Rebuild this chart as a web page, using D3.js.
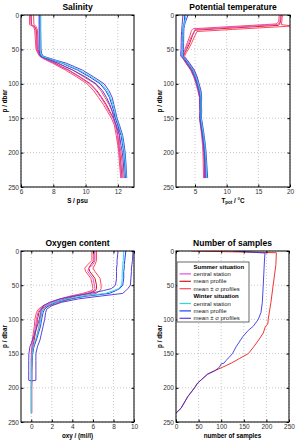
<!DOCTYPE html>
<html lang="en">
<head>
<meta charset="UTF-8">
<title>Summer and winter profiles</title>
<style>
  body { margin: 0; background: #fff; }
  svg { display: block; font-family: "Liberation Sans", Arial, sans-serif; }
  .tick text { fill: #333; font-size: 6.5px; }
  .tick line { stroke: #000; }
  .grid line { stroke: #bbb; stroke-dasharray: 1,2; stroke-width: 0.8; }
  .title { font-size: 8.5px; font-weight: bold; }
  .label { font-size: 6.3px; font-weight: bold; }
  .legend text { font-size: 6px; }
</style>
</head>
<body>
<svg id="chart" width="296" height="440"></svg>
<script src="https://d3js.org/d3.v7.min.js"></script>
<script>
// ---- salinity (S / psu) ----
const salDepth = [0, 14, 17, 22, 50, 56, 60, 63, 66, 70, 75, 80, 90, 100, 110, 120, 130, 140, 150, 160, 175, 190, 200, 215, 237];
const salSumLo = [6.53, 6.53, 6.78, 6.85, 6.93, 7.05, 7.15, 7.35, 7.6, 7.95, 8.35, 8.75, 9.45, 10.1, 10.5, 10.8, 11.1, 11.35, 11.6, 11.78, 11.9, 12.0, 12.05, 12.1, 12.18];
const salSumMean = [6.63, 6.65, 6.85, 6.95, 7.0, 7.1, 7.2, 7.42, 7.7, 8.1, 8.5, 8.95, 9.65, 10.3, 10.7, 11.0, 11.28, 11.5, 11.72, 11.88, 12.0, 12.06, 12.12, 12.18, 12.25];
const salSumHi = [6.78, 6.8, 6.95, 7.02, 7.06, 7.15, 7.25, 7.55, 7.85, 8.25, 8.7, 9.2, 9.9, 10.6, 10.95, 11.2, 11.45, 11.65, 11.85, 12.0, 12.1, 12.12, 12.2, 12.26, 12.32];
const salSumCentral = [6.6, 6.62, 6.82, 6.92, 6.98, 7.08, 7.2, 7.4, 7.65, 8.05, 8.45, 8.9, 9.6, 10.25, 10.65, 10.95, 11.22, 11.45, 11.7, 11.85, 11.98, 12.05, 12.1, 12.15, 12.22];
const salWinLo = [7.12, 7.12, 7.12, 7.12, 7.12, 7.15, 7.2, 7.5, 7.85, 8.3, 8.75, 9.2, 10.0, 10.65, 11.05, 11.3, 11.5, 11.65, 11.75, 11.9, 12.1, 12.2, 12.28, 12.34, 12.4];
const salWinMean = [7.17, 7.17, 7.17, 7.17, 7.18, 7.2, 7.28, 7.65, 8.05, 8.55, 9.0, 9.5, 10.25, 10.9, 11.25, 11.48, 11.62, 11.75, 11.85, 12.0, 12.2, 12.3, 12.37, 12.42, 12.48];
const salWinHi = [7.22, 7.22, 7.22, 7.22, 7.24, 7.28, 7.38, 7.8, 8.2, 8.8, 9.3, 9.8, 10.5, 11.15, 11.45, 11.65, 11.75, 11.85, 11.95, 12.1, 12.3, 12.4, 12.45, 12.5, 12.55];
const salWinCentral = [7.2, 7.2, 7.2, 7.2, 7.2, 7.22, 7.3, 7.7, 8.1, 8.6, 9.1, 9.6, 10.35, 11.0, 11.35, 11.55, 11.7, 11.8, 11.9, 12.05, 12.25, 12.35, 12.4, 12.46, 12.52];

// ---- potential temperature (°C) ----
const tmpDepth = [0, 10, 13, 14, 15, 16, 20, 21, 22, 24, 30, 40, 50, 55, 60, 65, 70, 80, 90, 100, 110, 120, 130, 140, 150, 160, 175, 190, 200, 215, 237];
const tmpSumLo = [18.3, 18.2, 17.8, 15.93, 14.06, 12.19, 4.7, 4.6, 4.5, 4.4, 4.2, 3.8, 3.4, 3.1, 2.95, 3.2, 3.55, 4.3, 4.8, 5.15, 5.45, 5.7, 5.7, 5.75, 5.7, 5.85, 6.05, 6.2, 6.25, 6.3, 6.35];
const tmpSumMean = [18.6, 18.5, 18.35, 18.3, 18.2, 16.3, 8.8, 6.9, 5.0, 4.9, 4.6, 4.2, 3.7, 3.4, 3.15, 3.45, 3.8, 4.55, 5.0, 5.35, 5.65, 5.85, 5.85, 5.88, 5.85, 5.98, 6.18, 6.35, 6.42, 6.5, 6.5];
const tmpSumHi = [18.8, 18.7, 18.65, 18.6, 19.5, 20.4, 12.85, 10.96, 9.08, 5.3, 5.0, 4.5, 3.95, 3.6, 3.35, 3.7, 4.05, 4.8, 5.25, 5.55, 5.85, 6.0, 6.0, 6.0, 6.0, 6.1, 6.3, 6.5, 6.55, 6.6, 6.62];
const tmpSumCentral = [18.5, 18.4, 18.2, 18.0, 16.14, 14.29, 6.86, 5.0, 4.95, 4.85, 4.5, 4.0, 3.55, 3.3, 3.05, 3.35, 3.7, 4.45, 4.95, 5.3, 5.6, 5.8, 5.8, 5.85, 5.8, 5.95, 6.15, 6.3, 6.38, 6.45, 6.45];
const tmpWinLo = [3.1, 3.0, 2.98, 2.97, 2.96, 2.95, 2.9, 2.9, 2.9, 2.88, 2.85, 2.82, 2.8, 2.75, 2.75, 3.3, 3.65, 4.4, 4.9, 5.25, 5.55, 5.75, 5.75, 5.8, 5.75, 5.9, 6.15, 6.35, 6.45, 6.55, 6.6];
const tmpWinMean = [3.4, 3.3, 3.25, 3.22, 3.2, 3.18, 3.1, 3.08, 3.07, 3.06, 3.05, 3.02, 3.0, 2.95, 2.95, 3.5, 3.9, 4.65, 5.1, 5.45, 5.75, 5.92, 5.9, 5.92, 5.9, 6.05, 6.3, 6.5, 6.6, 6.7, 6.8];
const tmpWinHi = [3.9, 3.5, 3.4, 3.38, 3.35, 3.33, 3.25, 3.25, 3.24, 3.23, 3.22, 3.2, 3.2, 3.15, 3.15, 3.75, 4.15, 4.9, 5.35, 5.65, 5.95, 6.05, 6.02, 6.05, 6.02, 6.2, 6.45, 6.65, 6.75, 6.85, 7.0];
const tmpWinCentral = [3.6, 3.4, 3.3, 3.28, 3.26, 3.24, 3.15, 3.13, 3.12, 3.1, 3.08, 3.05, 3.05, 3.0, 3.0, 3.6, 3.95, 4.7, 5.15, 5.5, 5.8, 5.95, 5.95, 5.95, 5.95, 6.1, 6.35, 6.55, 6.65, 6.75, 6.85];

// ---- oxygen (ml/l) ----
const oxyDepth = [0, 14, 20, 25, 30, 40, 50, 55, 58, 62, 66, 70, 75, 80, 85, 90, 100, 110, 120, 130, 140, 150, 160, 175, 189, 190, 200, 215, 237];
const oxySumLo = [5.9, 5.9, 5.5, 5.2, 5.3, 5.8, 5.95, 6.0, 5.9, 5.0, 3.75, 2.8, 1.8, 1.15, 0.7, 0.5, 0.35, 0.3, 0.2, 0.1, 0.05, 0.0, 0.0, 0.0, 0.0, 0.0, 0.0, 0.0, 0.0];
const oxySumMean = [6.1, 6.1, 5.8, 5.6, 5.7, 6.2, 6.35, 6.35, 6.25, 5.6, 4.3, 3.3, 2.3, 1.5, 0.95, 0.75, 0.6, 0.52, 0.4, 0.28, 0.15, 0.06, 0.03, 0.02, 0.02, 0.02, 0.02, 0.02, 0.02];
const oxySumHi = [6.35, 6.35, 6.2, 6.0, 6.2, 6.7, 6.8, 6.8, 6.7, 6.3, 5.0, 3.9, 2.8, 1.8, 1.15, 1.0, 0.85, 0.75, 0.6, 0.45, 0.25, 0.12, 0.08, 0.06, 0.05, 0.05, 0.05, 0.05, 0.05];
const oxySumCentral = [6.2, 6.2, 6.0, 5.6, 5.5, 6.0, 6.15, 6.2, 6.1, 5.4, 4.0, 3.0, 2.0, 1.3, 0.85, 0.65, 0.5, 0.42, 0.3, 0.2, 0.1, 0.03, 0.0, 0.0, 0.0, 0.0, 0.0, 0.0, 0.0];
const oxyWinLo = [8.45, 8.35, 8.35, 8.3, 8.3, 8.3, 8.2, 7.8, 7.0, 5.7, 4.1, 2.8, 1.8, 1.15, 1.0, 0.9, 0.78, 0.58, 0.35, 0.13, -0.13, -0.23, -0.25, -0.25, -0.25, 0.0, null, null, null];
const oxyWinMean = [9.2, 9.1, 9.05, 9.05, 9.0, 9.0, 8.9, 8.6, 8.2, 7.6, 5.4, 3.75, 2.45, 1.65, 1.3, 1.15, 1.0, 0.9, 0.7, 0.5, 0.25, 0.13, 0.08, 0.05, 0.05, 0.05, 0.03, 0.03, 0.03];
const oxyWinHi = [9.9, 9.85, 9.8, 9.75, 9.75, 9.7, 9.65, 9.4, 9.2, 8.9, 6.7, 4.6, 2.95, 2.0, 1.5, 1.4, 1.3, 1.15, 1.0, 0.85, 0.6, 0.45, 0.45, 0.45, 0.45, 0.0, null, null, null];
const oxyWinCentral = [9.0, 8.95, 8.9, 8.9, 8.85, 8.85, 8.8, 8.5, 8.0, 7.2, 5.0, 3.5, 2.3, 1.55, 1.2, 1.05, 0.92, 0.8, 0.62, 0.42, 0.2, 0.1, 0.05, 0.03, 0.03, 0.03, 0.02, 0.02, 0.02];

// ---- number of samples ----
const nSumDepth = [0, 2.5, 20, 50, 75, 100, 107, 110, 120, 130, 140, 150, 157, 164, 169, 175, 180, 193, 200, 213, 230, 237];
const nSumCount = [35, 222, 221, 215, 210, 204, 203, 198, 193, 183, 172, 160, 141, 122, 106, 86, 70, 48, 41, 26, 11, 0];
const nWinDepth = [0, 3, 10, 50, 75, 90, 100, 110, 116, 125, 140, 150, 160, 164, 165, 170, 175, 180, 193, 200, 213, 230, 237];
const nWinCount = [126, 197, 196, 193, 191, 188, 182, 171, 160, 148, 133, 125, 111, 106, 100, 96, 86, 70, 48, 41, 26, 11, 0];

const depthTicks = [0, 50, 100, 150, 200, 250];

const col = {
  sumCentral: "#e050e0", sumMean: "#d81818", sumSigma: "#ff4a5a",
  winCentral: "#30d8e0", winMean: "#2040ee", winSigma: "#5a40dd"
};

const svg = d3.select("#chart");
const fmt = d3.format("~g");

function pairs(xs, ds) {
  return ds.map((d, i) => [xs[i], d]);
}

function profiles(depth, s) {
  return [
    { pts: pairs(s.sumLo, depth), color: col.sumSigma },
    { pts: pairs(s.sumHi, depth), color: col.sumSigma },
    { pts: pairs(s.sumMean, depth), color: col.sumMean },
    { pts: pairs(s.sumCentral, depth), color: col.sumCentral },
    { pts: pairs(s.winLo, depth), color: col.winSigma },
    { pts: pairs(s.winHi, depth), color: col.winSigma },
    { pts: pairs(s.winMean, depth), color: col.winMean },
    { pts: pairs(s.winCentral, depth), color: col.winCentral }
  ];
}

let clipId = 0;
function panel(cfg) {
  const w = cfg.w, h = cfg.h;
  const g = svg.append("g").attr("transform", `translate(${cfg.left},${cfg.top})`);
  const x = d3.scaleLinear().domain(cfg.xDomain).range([0, w]);
  const y = d3.scaleLinear().domain([0, 250]).range([0, h]);

  // dotted grid
  const grid = g.append("g").attr("class", "grid");
  grid.selectAll(".gx").data(cfg.xTicks).join("line")
    .attr("x1", d => x(d)).attr("x2", d => x(d)).attr("y1", 0).attr("y2", h);
  grid.selectAll(".gy").data(depthTicks).join("line")
    .attr("x1", 0).attr("x2", w).attr("y1", d => y(d)).attr("y2", d => y(d));

  const id = "clip" + (clipId++);
  g.append("clipPath").attr("id", id).append("rect").attr("width", w).attr("height", h);

  const line = d3.line()
    .defined(d => d[0] != null)
    .x(d => x(d[0]))
    .y(d => y(d[1]));

  g.append("g").attr("clip-path", `url(#${id})`)
    .selectAll("path").data(cfg.series).join("path")
    .attr("d", d => line(d.pts))
    .attr("fill", "none")
    .attr("stroke", d => d.color)
    .attr("stroke-opacity", d => d.opacity || 1)
    .attr("stroke-width", 1);

  // axes, ticks pointing inward
  g.append("g").attr("transform", `translate(0,${h})`)
    .call(d3.axisBottom(x).tickValues(cfg.xTicks).tickFormat(fmt).tickSize(-2.5).tickPadding(2.6));
  g.append("g")
    .call(d3.axisLeft(y).tickValues(depthTicks).tickFormat(fmt).tickSize(-2.5).tickPadding(2));
  g.append("g").call(d3.axisTop(x).tickValues(cfg.xTicks).tickSize(-2.5).tickFormat(""));
  g.append("g").attr("transform", `translate(${w},0)`)
    .call(d3.axisRight(y).tickValues(depthTicks).tickSize(-2.5).tickFormat(""));
  g.selectAll(".domain").remove();

  g.append("rect").attr("width", w).attr("height", h)
    .attr("fill", "none").attr("stroke", "#000").attr("stroke-width", 1);

  g.append("text").attr("class", "title")
    .attr("x", w / 2).attr("y", -5).attr("text-anchor", "middle").text(cfg.title);

  const xl = g.append("text").attr("class", "label")
    .attr("x", w / 2).attr("y", h + 15.5).attr("text-anchor", "middle");
  cfg.xLabel(xl);

  g.append("text").attr("class", "label")
    .attr("transform", `translate(${-14},${h / 2}) rotate(-90)`)
    .attr("text-anchor", "middle").text("p / dbar");

  return g;
}

panel({
  left: 21, top: 15, w: 113, h: 172,
  xDomain: [6, 13], xTicks: [6, 8, 10, 12],
  title: "Salinity",
  xLabel: t => t.text("S / psu"),
  series: profiles(salDepth, {
    sumLo: salSumLo, sumHi: salSumHi, sumMean: salSumMean, sumCentral: salSumCentral,
    winLo: salWinLo, winHi: salWinHi, winMean: salWinMean, winCentral: salWinCentral
  })
});

panel({
  left: 176, top: 15, w: 114, h: 172,
  xDomain: [2, 20], xTicks: [5, 10, 15, 20],
  title: "Potential temperature",
  xLabel: t => {
    t.append("tspan").text("T");
    t.append("tspan").attr("dy", 1.8).attr("font-size", 4.5).text("pot");
    t.append("tspan").attr("dy", -1.8).text(" / \u00b0C");
  },
  series: profiles(tmpDepth, {
    sumLo: tmpSumLo, sumHi: tmpSumHi, sumMean: tmpSumMean, sumCentral: tmpSumCentral,
    winLo: tmpWinLo, winHi: tmpWinHi, winMean: tmpWinMean, winCentral: tmpWinCentral
  })
});

panel({
  left: 21, top: 251, w: 113, h: 171,
  xDomain: [-1, 10], xTicks: [0, 2, 4, 6, 8, 10],
  title: "Oxygen content",
  xLabel: t => t.text("oxy / (ml/l)"),
  series: profiles(oxyDepth, {
    sumLo: oxySumLo, sumHi: oxySumHi, sumMean: oxySumMean, sumCentral: oxySumCentral,
    winLo: oxyWinLo, winHi: oxyWinHi, winMean: oxyWinMean, winCentral: oxyWinCentral
  })
});

const pn = panel({
  left: 176, top: 251, w: 113, h: 171,
  xDomain: [0, 250], xTicks: [0, 50, 100, 150, 200, 250],
  title: "Number of samples",
  xLabel: t => t.text("number of samples"),
  series: [
    { pts: pairs(nSumCount, nSumDepth), color: "#ee3535" },
    { pts: pairs(nWinCount, nWinDepth), color: "#2a2ae0", opacity: 0.85 }
  ]
});

// legend
const legendItems = [
  { label: "Summer situation", header: true },
  { label: "central station", color: col.sumCentral },
  { label: "mean profile", color: col.sumMean },
  { label: "mean \u00b1 \u03c3 profiles", color: col.sumSigma },
  { label: "Winter situation", header: true },
  { label: "central station", color: col.winCentral },
  { label: "mean profile", color: col.winMean },
  { label: "mean \u00b1 \u03c3 profiles", color: col.winSigma }
];

const lg = pn.append("g").attr("class", "legend").attr("transform", "translate(1,11)");
lg.append("rect").attr("width", 72).attr("height", 60)
  .attr("fill", "#fff").attr("fill-opacity", 0.9)
  .attr("stroke", "#444").attr("stroke-width", 0.8);
const row = lg.selectAll(".row").data(legendItems).join("g")
  .attr("transform", (d, i) => `translate(0,${4.5 + i * 7.4})`);
row.filter(d => !d.header).append("line")
  .attr("x1", 2.5).attr("x2", 14).attr("y1", 0).attr("y2", 0)
  .attr("stroke", d => d.color).attr("stroke-width", 1.2);
row.append("text")
  .attr("x", 16.5).attr("dy", "0.35em")
  .attr("font-weight", d => d.header ? "bold" : null)
  .attr("fill", d => d.header ? "#000" : "#222")
  .text(d => d.label);
</script>
</body>
</html>
